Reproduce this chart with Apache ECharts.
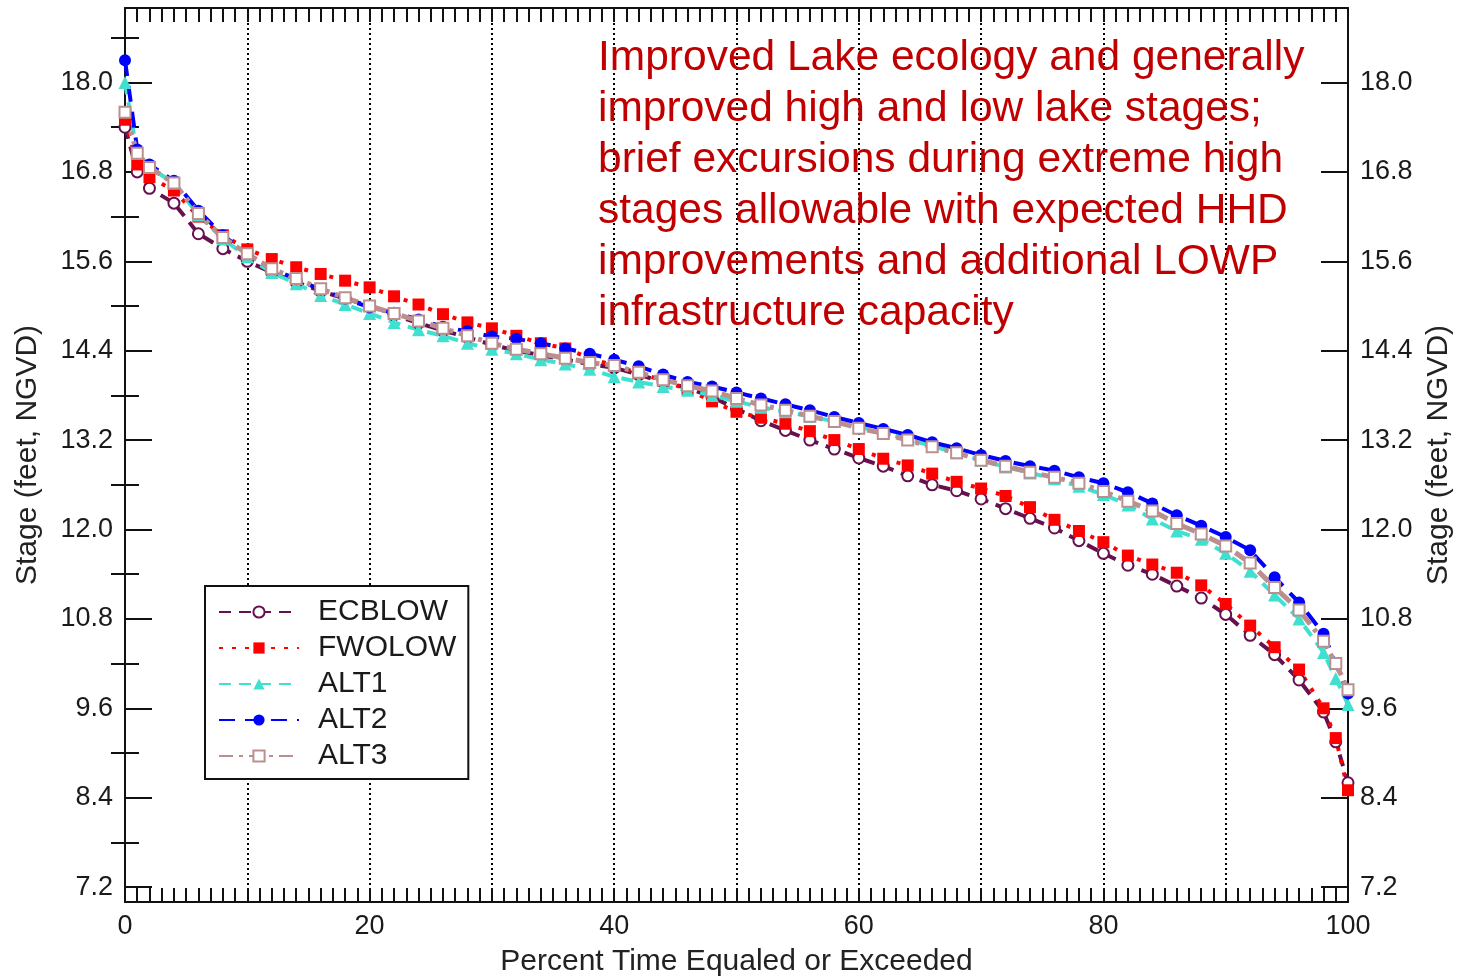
<!DOCTYPE html>
<html>
<head>
<meta charset="utf-8">
<script src="https://cdn.jsdelivr.net/npm/echarts@6/dist/echarts.min.js"></script>
<style>
html,body{margin:0;padding:0;background:#fff;}
#chart{width:1463px;height:979px;}
</style>
</head>
<body>
<div id="chart"></div>
<script>
// Percent time equaled or exceeded
const percent = [0,1,2,4,6,8,10,12,14,16,18,20,22,24,26,28,30,32,34,36,38,40,42,44,46,48,50,52,54,56,58,60,62,64,66,68,70,72,74,76,78,80,82,84,86,88,90,92,94,96,98,99,100];

const ECBLOW = [17.4,16.8,16.58,16.38,15.97,15.77,15.6,15.45,15.32,15.2,15.1,15.0,14.88,14.77,14.67,14.58,14.48,14.4,14.34,14.28,14.22,14.17,14.08,13.98,13.9,13.78,13.62,13.46,13.33,13.2,13.08,12.96,12.85,12.72,12.6,12.52,12.41,12.28,12.15,12.02,11.85,11.68,11.52,11.4,11.24,11.08,10.86,10.58,10.32,9.98,9.55,9.15,8.6];
const FWOLOW = [17.5,16.9,16.73,16.55,16.2,15.95,15.76,15.63,15.52,15.43,15.34,15.25,15.13,15.02,14.89,14.78,14.7,14.6,14.5,14.43,14.3,14.2,14.1,14.0,13.88,13.72,13.58,13.5,13.42,13.32,13.2,13.08,12.95,12.86,12.75,12.64,12.55,12.45,12.3,12.13,11.98,11.83,11.65,11.53,11.42,11.25,11.0,10.71,10.42,10.12,9.6,9.2,8.5];
const ALT1 = [18.0,17.05,16.86,16.65,16.22,15.9,15.66,15.45,15.3,15.14,15.02,14.9,14.78,14.68,14.6,14.5,14.42,14.36,14.28,14.22,14.15,14.05,13.98,13.92,13.87,13.8,13.72,13.64,13.58,13.52,13.45,13.38,13.3,13.21,13.12,13.03,12.93,12.84,12.76,12.68,12.58,12.47,12.33,12.14,11.98,11.87,11.68,11.44,11.12,10.8,10.35,10.0,9.65];
const ALT2 = [18.3,17.1,16.9,16.68,16.28,15.95,15.7,15.5,15.36,15.22,15.1,14.98,14.91,14.82,14.72,14.66,14.59,14.56,14.5,14.43,14.36,14.28,14.19,14.08,13.98,13.92,13.84,13.76,13.68,13.6,13.51,13.43,13.35,13.27,13.17,13.09,13.0,12.92,12.85,12.79,12.7,12.62,12.5,12.35,12.19,12.05,11.9,11.72,11.36,11.02,10.6,10.2,9.8];
const ALT3 = [17.6,17.05,16.86,16.65,16.24,15.92,15.7,15.5,15.37,15.23,15.11,15.0,14.9,14.8,14.7,14.6,14.5,14.42,14.36,14.3,14.24,14.2,14.11,14.01,13.93,13.86,13.76,13.67,13.6,13.52,13.45,13.36,13.29,13.2,13.11,13.03,12.93,12.85,12.77,12.7,12.62,12.51,12.38,12.25,12.08,11.94,11.78,11.55,11.22,10.92,10.5,10.2,9.85];

const seriesNames = ['ECBLOW','FWOLOW','ALT1','ALT2','ALT3'];
const xLabelValues = [0,20,40,60,80,100];
const yTickValues = [7.2,8.4,9.6,10.8,12.0,13.2,14.4,15.6,16.8,18.0];
const yMinorValues = [7.8,9.0,10.2,11.4,12.6,13.8,15.0,16.2,17.4,18.6];
const annotationLines = [
  'Improved Lake ecology and generally',
  'improved high and low lake stages;',
  'brief excursions during extreme high',
  'stages allowable with expected HHD',
  'improvements and additional LOWP',
  'infrastructure capacity'
];

const FONT = 'Liberation Sans, Arial, sans-serif';
const AX = '#111';
const pair = arr => percent.map((p,i)=>[p,arr[i]]);

const chart = echarts.init(document.getElementById('chart'), null, {renderer:'canvas'});

const xCommon = {
  type:'value', min:0, max:100, interval:10,
  axisLine:{show:true,onZero:false,lineStyle:{color:AX,width:2}},
  axisTick:{show:true,inside:true,length:14,lineStyle:{color:AX,width:2}},
  minorTick:{show:true,splitNumber:10,length:14,lineStyle:{color:AX,width:2}}
};
const yMajor = (pos) => ({
  type:'value', min:7.0, max:19.0, position:pos,
  axisLine:{show:true,onZero:false,lineStyle:{color:AX,width:2}},
  axisTick:{show:true,inside:true,length:27,customValues:yTickValues,lineStyle:{color:AX,width:2}},
  axisLabel:{show:true,customValues:yTickValues,formatter:v=>Number(v).toFixed(1),fontSize:27,color:'#1a1a1a',fontFamily:FONT,margin:12},
  splitLine:{show:false},
  name:'Stage (feet, NGVD)', nameLocation:'middle', nameRotate:90,
  nameGap: pos==='left'?82:74,
  nameTextStyle:{fontSize:30,color:'#222',fontFamily:FONT}
});
const yMinor = pos => ({
  type:'value', min:7.0, max:19.0, position:pos,
  axisLine:{show:false},
  axisTick:{show:true,inside:true,length:14,customValues:yMinorValues,lineStyle:{color:AX,width:2}},
  axisLabel:{show:false},
  splitLine:{show:false}
});

const option = {
  backgroundColor:'#ffffff',
  animation:false,
  grid:{left:125,right:115,top:8,bottom:77,containLabel:false,outerBoundsMode:'none'},
  xAxis:[
    Object.assign({}, xCommon, {
      position:'bottom',
      axisLabel:{customValues:xLabelValues,fontSize:27,color:'#1a1a1a',fontFamily:FONT,margin:11},
      splitLine:{show:true,lineStyle:{type:[2,3],color:'#000',width:2}},
      name:'Percent Time Equaled or Exceeded', nameLocation:'middle', nameGap:45,
      nameTextStyle:{fontSize:30,color:'#222',fontFamily:FONT}
    }),
    Object.assign({}, xCommon, {
      position:'top',
      axisLabel:{show:false},
      splitLine:{show:false}
    })
  ],
  yAxis:[ yMajor('left'), yMinor('left'), yMajor('right'), yMinor('right') ],
  legend:{
    orient:'vertical', left:205, top:586,
    data:seriesNames,
    itemWidth:80, itemHeight:14, itemGap:6,
    padding:[11,12,8,13],
    borderColor:'#111', borderWidth:2, backgroundColor:'#fff',
    textStyle:{fontSize:30,color:'#1a1a1a',fontFamily:FONT,padding:[0,0,0,14]}
  },
  graphic:[{
    type:'text', left:598, top:33, z:100,
    style:{text:annotationLines.join('\n'),fontSize:42.5,lineHeight:51,fill:'#c00000',fontFamily:FONT}
  }],
  series:[
    {name:'ECBLOW',type:'line',data:pair(ECBLOW),symbol:'emptyCircle',symbolSize:11,showAllSymbol:true,clip:false,
     lineStyle:{color:'#66104e',width:4,type:[12,8]},itemStyle:{color:'#66104e',borderColor:'#66104e',borderWidth:2.5}},
    {name:'FWOLOW',type:'line',data:pair(FWOLOW),symbol:'rect',symbolSize:12,showAllSymbol:true,clip:false,
     lineStyle:{color:'#ff0000',width:4,type:[4,9]},itemStyle:{color:'#ff0000'}},
    {name:'ALT1',type:'line',data:pair(ALT1),symbol:'triangle',symbolSize:13,showAllSymbol:true,clip:false,
     lineStyle:{color:'#40e0d0',width:4,type:[12,8]},itemStyle:{color:'#40e0d0'}},
    {name:'ALT2',type:'line',data:pair(ALT2),symbol:'circle',symbolSize:12,showAllSymbol:true,clip:false,
     lineStyle:{color:'#0000ff',width:4,type:[16,10]},itemStyle:{color:'#0000ff'}},
    {name:'ALT3',type:'line',data:pair(ALT3),symbol:'emptyRect',symbolSize:11,showAllSymbol:true,clip:false,
     lineStyle:{color:'#bc8f8f',width:5,type:[14,6,4,6]},itemStyle:{color:'#bc8f8f',borderColor:'#bc8f8f',borderWidth:2.5}}
  ]
};
chart.setOption(option);
</script>
</body>
</html>
